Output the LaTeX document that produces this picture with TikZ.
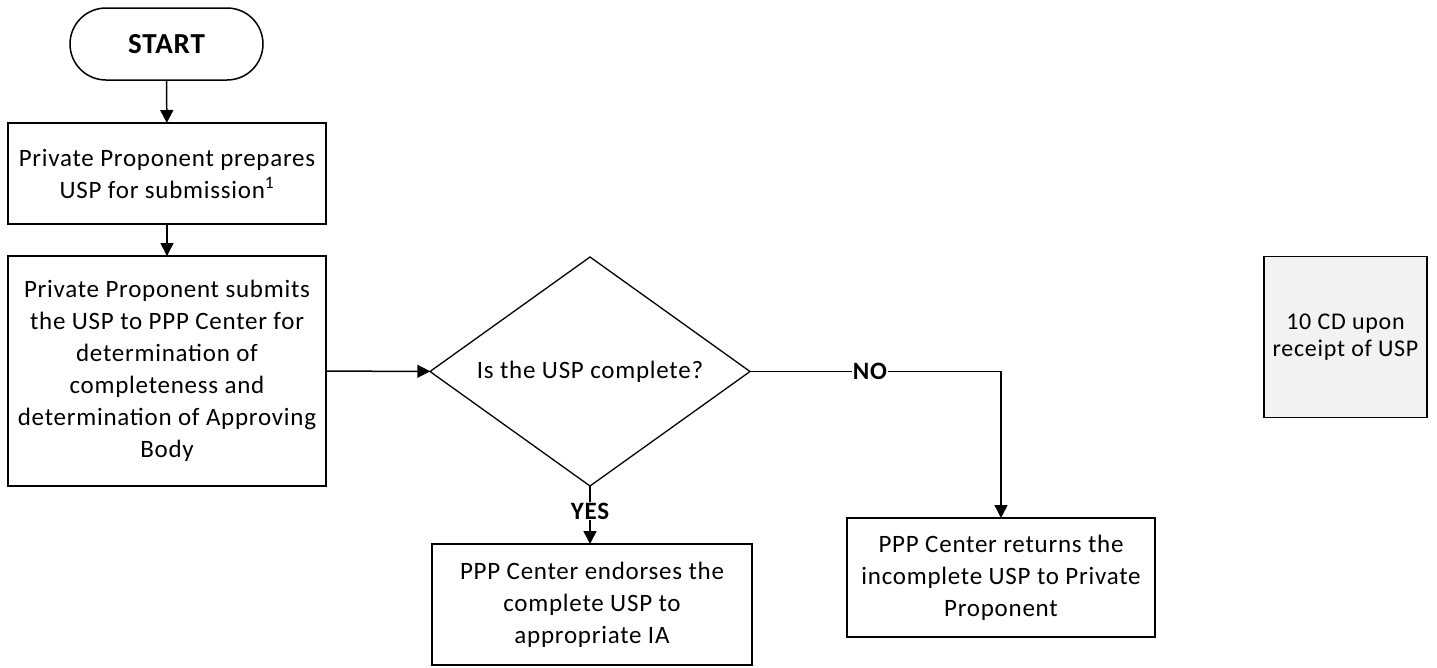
\documentclass[tikz,border=0pt]{standalone}
\usepackage{fontspec}
\setmainfont{Carlito}[LetterSpace=3]
\usetikzlibrary{arrows.meta,shapes.geometric}
\begin{document}
\begin{tikzpicture}[x=1pt,y=-1pt,
  proc/.style={draw, line width=1.5pt, align=center, font=\fontsize{25}{32}\selectfont, inner sep=0pt, outer sep=0pt},
  arr/.style={line width=1.5pt, -{Triangle[length=13pt,width=13pt]}},
  lbl/.style={fill=white, font=\fontsize{25}{30}\selectfont\bfseries, inner sep=1pt}]
\useasboundingbox (0,0) rectangle (1437,667);
\node[proc, rounded corners=36pt, minimum width=193pt, minimum height=72pt, font=\fontsize{29}{32}\selectfont\bfseries] (start) at (166.5,44) {START};
\node[proc, minimum width=318pt, minimum height=101pt] (box1) at (167,173.5) {Private Proponent prepares\\USP for submission\textsuperscript{1}};
\node[proc, minimum width=318pt, minimum height=230pt] (box2) at (167,371) {Private Proponent submits\\the USP to PPP Center for\\determination of\\completeness and\\determination of Approving\\Body};
\node[proc, diamond, aspect=1.4, line width=1.3pt, minimum width=320pt, minimum height=229pt] (dec) at (590,371.5) {Is the USP complete?};
\node[proc, minimum width=320pt, minimum height=121pt] (yesbox) at (592,604.5) {PPP Center endorses the\\complete USP to\\appropriate IA};
\node[proc, minimum width=308pt, minimum height=119pt] (nobox) at (1001,577.5) {PPP Center returns the\\incomplete USP to Private\\Proponent};
\node[proc, fill=black!5, minimum width=163pt, minimum height=161pt, font=\fontsize{24}{27}\selectfont] (side) at (1345.5,337) {10 CD upon\\receipt of USP};
\draw[arr] (start) -- (box1);
\draw[arr] (box1) -- (box2);
\draw[arr] (box2) -- (dec);
\draw[arr] (dec.south) -- (dec.south |- yesbox.north);
\draw[arr] (dec.east) -| (nobox.north);
\node[lbl] (yes) at (590,511) {YES};
\node[lbl] (no) at (870,371) {NO};
\end{tikzpicture}
\end{document}
